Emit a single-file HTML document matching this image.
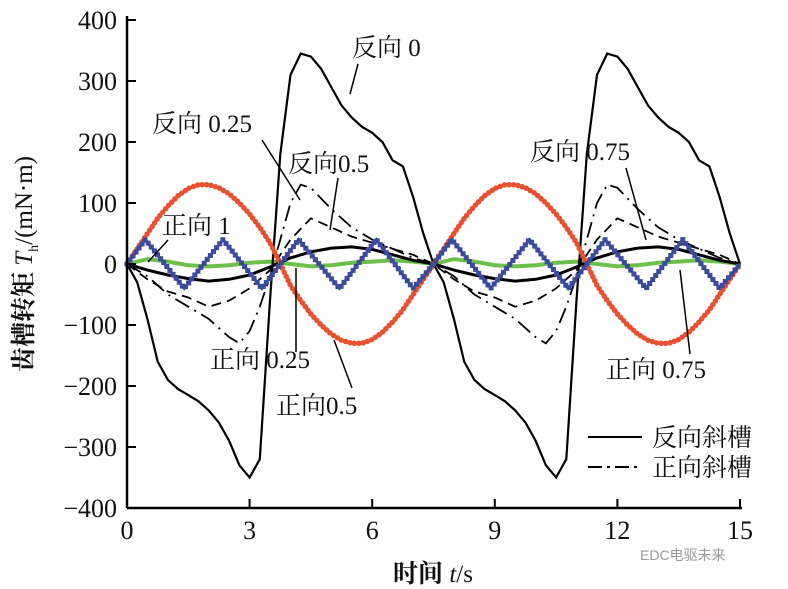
<!DOCTYPE html>
<html><head><meta charset="utf-8"><style>
html,body{margin:0;padding:0;background:#fff;width:788px;height:589px;overflow:hidden}
text{font-family:"Liberation Serif","Noto Serif CJK SC",serif;fill:#111}
</style></head><body>
<svg id="chart" width="788" height="589" viewBox="0 0 788 589" xmlns="http://www.w3.org/2000/svg">
<g id="series"></g>
<g id="axes"></g>
<g id="labels">
<text x="352" y="56" font-size="25">反向 0</text>
<line x1="358" y1="64" x2="350" y2="94" stroke="#000" stroke-width="1.5"/>
<text x="152" y="132" font-size="25">反向 0.25</text>
<line x1="262" y1="140" x2="300" y2="200" stroke="#000" stroke-width="1.5"/>
<text x="288" y="172" font-size="25">反向0.5</text>
<line x1="338" y1="178" x2="330" y2="230" stroke="#000" stroke-width="1.5"/>
<text x="530" y="160" font-size="25">反向 0.75</text>
<line x1="626" y1="168" x2="646" y2="240" stroke="#000" stroke-width="1.5"/>
<text x="162" y="234" font-size="25">正向 1</text>
<line x1="168" y1="240" x2="148" y2="262" stroke="#000" stroke-width="1.5"/>
<text x="210" y="368" font-size="25">正向 0.25</text>
<line x1="296" y1="352" x2="296" y2="268" stroke="#000" stroke-width="1.5"/>
<text x="276" y="414" font-size="25">正向0.5</text>
<line x1="352" y1="388" x2="334" y2="340" stroke="#000" stroke-width="1.5"/>
<text x="606" y="378" font-size="25">正向 0.75</text>
<line x1="690" y1="354" x2="680" y2="270" stroke="#000" stroke-width="1.5"/>
</g>
<g id="legend">
<line x1="588" y1="437" x2="642" y2="437" stroke="#000" stroke-width="2"/>
<text x="652" y="446" font-size="25">反向斜槽</text>
<line x1="588" y1="467" x2="642" y2="467" stroke="#000" stroke-width="2" stroke-dasharray="14 5 3 5"/>
<text x="652" y="476" font-size="25">正向斜槽</text>
</g>
<text x="640" y="560" font-size="14" style="fill:#999;font-family:'Liberation Sans','Noto Sans CJK SC',sans-serif">EDC电驱未来</text>
</svg>
<script>
const xTicks=[0,3,6,9,12,15];
const yTicks=[400,300,200,100,0,-100,-200,-300,-400];
const rev0T=[0,0.25,0.5,0.75,1,1.25,1.5,1.75,2,2.25,2.5,2.75,3,3.25,3.5,3.75,4,4.25,4.5,4.75,5,5.25,5.5,5.75,6,6.25,6.5,6.75,7,7.25,7.5,7.75,8,8.25,8.5,8.75,9,9.25,9.5,9.75,10,10.25,10.5,10.75,11,11.25,11.5,11.75,12,12.25,12.5,12.75,13,13.25,13.5,13.75,14,14.25,14.5,14.75,15];
const rev0V=[0,-30,-90,-160,-190,-205,-215,-225,-240,-260,-290,-330,-350,-320,-60,180,310,345,340,320,290,260,240,225,215,200,170,160,110,50,0,-30,-90,-160,-190,-205,-215,-225,-240,-260,-290,-330,-350,-320,-60,180,310,345,340,320,290,260,240,225,215,200,170,160,110,50,0];
const fwd025T=[0,0.5,1,1.5,2,2.5,2.75,3,3.25,3.5,3.75,4,4.25,4.5,5,5.5,6,6.5,7,7.5,8,8.5,9,9.5,10,10.25,10.5,10.75,11,11.25,11.5,11.75,12,12.5,13,13.5,14,14.5,15];
const fwd025V=[0,-20,-50,-70,-90,-120,-130,-110,-70,-20,40,100,130,125,90,60,40,25,10,0,-20,-50,-70,-90,-120,-130,-110,-70,-20,40,100,130,125,90,60,40,25,10,0];
const rev05T=[0,0.5,1,1.5,2,2.5,3,3.5,4,4.5,5,5.5,6,6.5,7,7.5,8,8.5,9,9.5,10,10.5,11,11.5,12,12.5,13,13.5,14,14.5,15];
const rev05V=[0,-25,-45,-55,-70,-60,-40,-10,40,75,60,45,35,25,15,0,-25,-45,-55,-70,-60,-40,-10,40,75,60,45,35,25,15,0];
const fwd05V=[0,-10,-18,-24,-28,-25,-18,-5,10,20,26,28,24,15,6,0,-10,-18,-24,-28,-25,-18,-5,10,20,26,28,24,15,6,0];
const redT=[0,0.25,0.5,0.75,1,1.25,1.5,1.75,2,2.25,2.5,2.75,3,3.25,3.5,3.75,4,4.25,4.5,4.75,5,5.25,5.5,5.75,6,6.25,6.5,6.75,7,7.25,7.5,7.75,8,8.25,8.5,8.75,9,9.25,9.5,9.75,10,10.25,10.5,10.75,11,11.25,11.5,11.75,12,12.25,12.5,12.75,13,13.25,13.5,13.75,14,14.25,14.5,14.75,15];
const redV=[0,25,50,75,95,112,124,130,130,125,115,100,82,60,35,0,-35,-60,-82,-100,-115,-125,-130,-130,-124,-112,-95,-75,-50,-25,0,25,50,75,95,112,124,130,130,125,115,100,82,60,35,0,-35,-60,-82,-100,-115,-125,-130,-130,-124,-112,-95,-75,-50,-25,0];
const blueT=[0,0.45,1.4,2.35,3.3,3.75,4.2,5.2,6.1,7.0,7.5,7.95,8.9,9.85,10.8,11.25,11.7,12.7,13.6,14.5,15];
const blueV=[0,40,-40,40,-40,0,40,-40,40,-40,0,40,-40,40,-40,0,40,-40,40,-40,0];
const greenT=[0,0.5,1,1.5,2,2.5,3,3.5,4,4.5,5,5.5,6,6.5,7,7.5,8,8.5,9,9.5,10,10.5,11,11.5,12,12.5,13,13.5,14,14.5,15];
const greenV=[0,8,4,-2,-4,-2,2,4,0,-4,-2,2,4,6,4,0,8,4,-2,-4,-2,2,4,0,-4,-2,2,4,6,4,0];

const X0=127,X1=740,Y0=508,Y1=20;
const sx=t=>X0+(t-0)/(15-0)*(X1-X0);
const sy=v=>Y0-(v+400)/800*(Y0-Y1);
const NS='http://www.w3.org/2000/svg';
const series=document.getElementById('series');
const axes=document.getElementById('axes');
function mk(tag,attrs,parent){const e=document.createElementNS(NS,tag);for(const k in attrs)e.setAttribute(k,attrs[k]);parent.appendChild(e);return e;}
function pathD(T,V){return T.map((t,i)=>(i?'L':'M')+sx(t).toFixed(1)+','+sy(V[i]).toFixed(1)).join(' ');}

let p;
p=mk('path',{d:pathD(greenT,greenV),fill:'none',stroke:'#6cc04a','stroke-width':4},series);


p=mk('path',{d:pathD(rev05T,fwd05V),fill:'none',stroke:'#000','stroke-width':3},series);


p=mk('path',{d:pathD(rev05T,rev05V),fill:'none',stroke:'#000','stroke-width':1.8,'stroke-dasharray':'10 6'},series);


p=mk('path',{d:pathD(fwd025T,fwd025V),fill:'none',stroke:'#000','stroke-width':1.8,'stroke-dasharray':'16 6 2 6'},series);


p=mk('path',{d:pathD(rev0T,rev0V),fill:'none',stroke:'#000','stroke-width':2.2},series);


p=mk('path',{d:pathD(redT,redV),fill:'none',stroke:'#e8502f','stroke-width':3},series);


p=mk('path',{d:pathD(redT,redV),fill:'none',stroke:'#e8502f','stroke-width':5.5,'stroke-linecap':'round','stroke-dasharray':'0 4.5'},series);


p=mk('path',{d:pathD(blueT,blueV),fill:'none',stroke:'#3a4a9c','stroke-width':3},series);


p=mk('path',{d:pathD(blueT,blueV),fill:'none',stroke:'#3a4a9c','stroke-width':5,'stroke-linecap':'square','stroke-dasharray':'0 5'},series);



let a=mk('line',{x1:X0,y1:Y1-4,x2:X0,y2:Y0,stroke:'#000','stroke-width':2.5},axes);


a=mk('line',{x1:X0,y1:Y0,x2:X1+2,y2:Y0,stroke:'#000','stroke-width':2.5},axes);


yTicks.forEach(v=>{
  const y=sy(v);
  let l=mk('line',{x1:X0,y1:y,x2:X0+9,y2:y,stroke:'#000','stroke-width':2},axes);
  
  
  let t=mk('text',{x:X0-10,y:y+9,'font-size':26,'text-anchor':'end'},axes);
  t.textContent=(v<0?'\u2212'+(-v):String(v));
  
  
});
xTicks.forEach(v=>{
  const x=sx(v);
  let l=mk('line',{x1:x,y1:Y0,x2:x,y2:Y0-9,stroke:'#000','stroke-width':2},axes);
  
  
  let t=mk('text',{x:x,y:Y0+31,'font-size':26,'text-anchor':'middle'},axes);
  t.textContent=String(v);
  
  
});
let xt=mk('text',{x:433,y:582,'font-size':25,'text-anchor':'middle','font-weight':'bold'},axes);
xt.innerHTML='时间 <tspan font-style="italic" font-weight="normal">t</tspan><tspan font-weight="normal">/s</tspan>';


let yt=mk('text',{x:0,y:0,'font-size':25,'text-anchor':'middle',transform:'translate(32,264) rotate(-90)'},axes);
yt.innerHTML='<tspan font-weight="bold">齿槽转矩 </tspan><tspan font-style="italic">T</tspan><tspan font-size="14" dy="6">h</tspan><tspan dy="-6">/(mN·m)</tspan>';


</script>
</body></html>
